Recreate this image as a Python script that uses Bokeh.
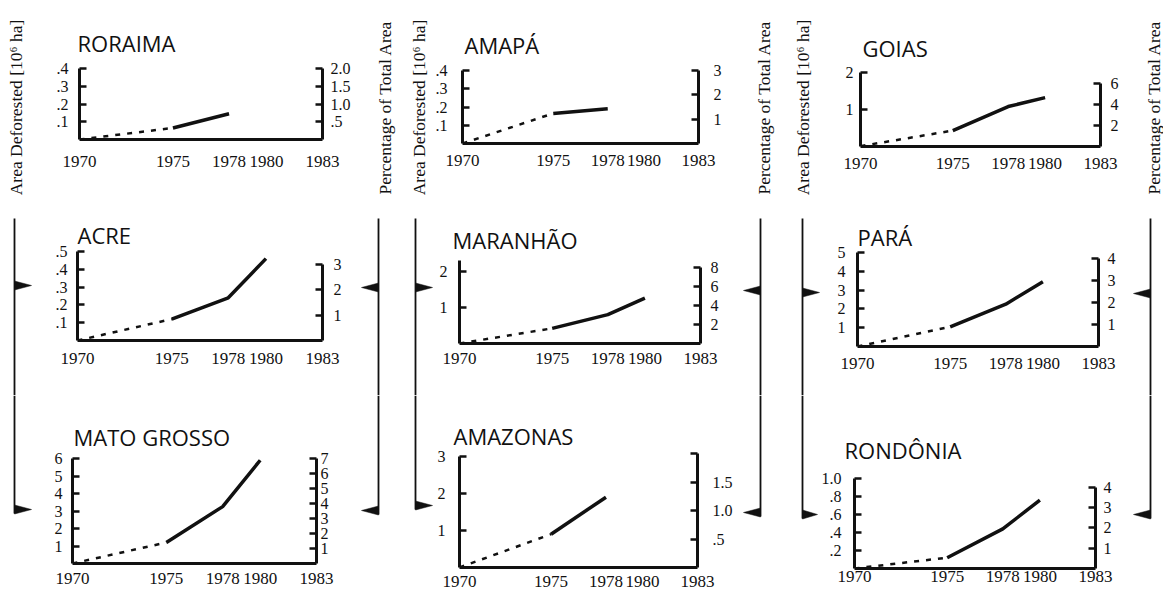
import math
from bokeh.plotting import figure
from bokeh.models import Range1d, LinearAxis, FixedTicker
from bokeh.layouts import row, column
from bokeh.embed import file_html
from bokeh.resources import INLINE
from bokeh.core.properties import value

# ---------------- data ----------------
years = [1970, 1975, 1978, 1980]
year_ticks = [1970, 1975, 1978, 1980, 1983]

state_names = ["RORAIMA", "AMAPÁ", "GOIAS",
               "ACRE", "MARANHÃO", "PARÁ",
               "MATO GROSSO", "AMAZONAS", "RONDÔNIA"]

# area deforested (in each panel's axis units) at 1970, 1975, 1978, 1980
roraima_area = [0.0, 0.065, 0.145]
amapa_area = [0.0, 0.165, 0.19]
goias_area = [0.01, 0.43, 1.08, 1.32]
acre_area = [0.0, 0.12, 0.24, 0.46]
maranhao_area = [0.0, 0.42, 0.80, 1.26]
para_area = [0.0, 1.05, 2.25, 3.45]
mato_grosso_area = [0.0, 1.2, 3.25, 5.9]
amazonas_area = [0.0, 0.9, 1.9]
rondonia_area = [0.0, 0.12, 0.44, 0.76]
series = [roraima_area, amapa_area, goias_area, acre_area, maranhao_area,
          para_area, mato_grosso_area, amazonas_area, rondonia_area]

# left axis (area deforested): top of scale, ticks and tick labels
area_top = [0.4, 0.4, 2.0, 0.5, 2.3, 5.0, 6.0, 3.08, 1.0]
area_ticks = [[0.1, 0.2, 0.3, 0.4], [0.1, 0.2, 0.3, 0.4], [1, 2],
              [0.1, 0.2, 0.3, 0.4, 0.5], [1, 2], [1, 2, 3, 4, 5],
              [1, 2, 3, 4, 5, 6], [1, 2, 3], [0.2, 0.4, 0.6, 0.8, 1.0]]
area_labels = [[".1", ".2", ".3", ".4"], [".1", ".2", ".3", ".4"], ["1", "2"],
               [".1", ".2", ".3", ".4", ".5"], ["1", "2"], ["1", "2", "3", "4", "5"],
               ["1", "2", "3", "4", "5", "6"], ["1", "2", "3"],
               [".2", ".4", ".6", ".8", "1.0"]]
area_axis_end = [None, None, None, None, None, None, None, 3, None]

# right axis (percentage of total area): ticks, labels, percent per area unit
pct_ticks = [[0.5, 1.0, 1.5, 2.0], [1, 2, 3], [2, 4, 6], [1, 2, 3], [2, 4, 6, 8],
             [1, 2, 3, 4], [1, 2, 3, 4, 5, 6, 7], [0.5, 1.0, 1.5, 2.0], [1, 2, 3, 4]]
pct_labels = [[".5", "1.0", "1.5", "2.0"], ["1", "2", "3"], ["2", "4", "6"],
              ["1", "2", "3"], ["2", "4", "6", "8"], ["1", "2", "3", "4"],
              ["1", "2", "3", "4", "5", "6", "7"], [".5", "1.0", "1.5", ""],
              ["1", "2", "3", "4"]]
pct_per_area = [5.0, 7.5, 3.5, 7.0, 3.8, 0.855, 7 / 6, 0.65, 4.44]

area_label = "Area Deforested [10\u2076 ha]"
pct_label = "Percentage of Total Area"

# ---------------- layout (page pixel coordinates) ----------------
BANDS = [(0, 215), (215, 395), (395, 600)]
SPLITS = [
    [0, 30, 370, 398, 432, 750, 780, 820, 1140, 1163],
    [0, 36, 360, 398, 436, 742, 778, 826, 1132, 1163],
    [0, 36, 360, 398, 434, 742, 778, 818, 1132, 1163],
]
# frame: left, right, top, bottom
FRAMES = [
    (79, 322, 68, 139), (460, 698, 70, 143), (860, 1100, 72, 146),
    (77, 322, 247, 340), (459, 700, 260, 343), (857, 1098, 252, 346),
    (72, 316, 458, 563), (458, 697, 453, 567), (852, 1095, 478, 568),
]
TITLE_STANDOFF = [21, 22, 20, 4, 12, 2, 13, 6, 28]
TITLE_OFFSET = [-2, 2, 2, 0, -7, 0, 1, -6, -10]
LEFT_STAND = [11, 15, 7, 10, 12, 12, 10, 14, 13]
RIGHT_STAND = [8, 15, 10, 11, 10, 9, 4, 15, 8]
X_STAND = [16, 11, 11, 12, 9, 11, 9, 8, 2]

LINE_X = [14, 378, 415, 760, 802, 1150]
TEXT_X = [15, 384, 418, 763, 802, 1153]
TEXT_Y = 107
DIRS = [1, -1, 1, -1, 1, -1]
LINE_TOP = 218
MID_ARROW_Y = [285, 287, 287, 290, 292, 293]
END_ARROW_Y = [512, 513, 508, 515, 517, 517]

INK = "#111111"
SERIF = "Liberation Serif"
TITLE_FONT = "Open Sans"


def style_axis(ax, stand, size="16px"):
    ax.axis_line_width = 3
    ax.axis_line_color = INK
    ax.major_tick_line_width = 2.5
    ax.major_tick_line_color = INK
    ax.major_tick_in = 7
    ax.major_tick_out = 0
    ax.minor_tick_in = 0
    ax.minor_tick_out = 0
    ax.major_label_standoff = stand
    ax.major_label_text_font = SERIF
    ax.major_label_text_font_size = size
    ax.major_label_text_color = INK


def make_panel(i, band, x0, x1):
    fl, fr, ft, fb = FRAMES[i]
    y0, y1 = BANDS[band]
    p = figure(width=x1 - x0, height=y1 - y0,
               x_range=Range1d(1970, 1983), y_range=Range1d(0, area_top[i]),
               output_backend="svg", toolbar_location=None,
               x_axis_type=None, y_axis_type=None, frame_align=False,
               min_border_left=fl - x0, min_border_right=x1 - fr,
               min_border_top=ft - y0, min_border_bottom=y1 - fb)
    p.title.text = state_names[i]
    p.title.text_font = TITLE_FONT
    p.title.text_font_size = "22px"
    p.title.text_font_style = "normal"
    p.title.text_color = INK
    p.title.align = "left"
    p.title.offset = TITLE_OFFSET[i]
    p.title.standoff = TITLE_STANDOFF[i]
    p.outline_line_color = None
    p.background_fill_color = "white"
    p.border_fill_color = "white"

    xa = LinearAxis(ticker=FixedTicker(ticks=year_ticks))
    style_axis(xa, X_STAND[i], "17px")
    xa.major_tick_in = 0
    p.add_layout(xa, "below")

    ya = LinearAxis(ticker=FixedTicker(ticks=area_ticks[i]),
                    major_label_overrides=dict(zip(area_ticks[i], area_labels[i])))
    if area_axis_end[i] is not None:
        ya.bounds = (0, area_axis_end[i])
    style_axis(ya, LEFT_STAND[i])
    p.add_layout(ya, "left")

    p.extra_y_ranges = {"pct": Range1d(0, area_top[i] * pct_per_area[i])}
    ra = LinearAxis(y_range_name="pct", ticker=FixedTicker(ticks=pct_ticks[i]),
                    major_label_overrides=dict(zip(pct_ticks[i], pct_labels[i])),
                    bounds=(0, max(pct_ticks[i])))
    style_axis(ra, RIGHT_STAND[i])
    p.add_layout(ra, "right")

    vals = series[i]
    xs = years[:len(vals)]
    p.line(xs[:2], vals[:2], line_dash="5 7", line_width=2.5, color=INK)
    p.line(xs[1:], vals[1:], line_width=3.5, color=INK)
    return p


def make_deco(k, band, x0, x1):
    y0, y1 = BANDS[band]
    w, h = x1 - x0, y1 - y0
    p = figure(width=w, height=h, x_range=Range1d(0, w), y_range=Range1d(h, 0),
               output_backend="svg", toolbar_location=None, title=None,
               x_axis_type=None, y_axis_type=None, min_border=0,
               frame_align=False)
    p.outline_line_color = None
    p.background_fill_color = "white"
    p.border_fill_color = "white"
    lx = LINE_X[k] - x0
    d = DIRS[k]
    if band == 0:
        p.text(x=[TEXT_X[k] - x0], y=[TEXT_Y - y0],
               text=[area_label if d == 1 else pct_label],
               angle=math.pi / 2, text_align="center", text_baseline="middle",
               text_font=value(SERIF), text_font_size="17.5px", text_color=INK)
    else:
        avail = (w - lx) if d == 1 else lx
        ln = min(17, avail - 1)
        if band == 1:
            p.line([lx, lx], [LINE_TOP - y0, h], line_width=1.8, color=INK)
            ay = MID_ARROW_Y[k] - y0
        else:
            ay = END_ARROW_Y[k] - y0 - 3
            p.line([lx, lx], [0, END_ARROW_Y[k] - y0 + 1], line_width=1.8, color=INK)
        p.patch([lx, lx, lx + d * ln], [ay - 4.5, ay + 4.5, ay],
                color=INK, line_width=0.5)
    return p


rows = []
for b in range(3):
    s = SPLITS[b]
    items = []
    for c in range(3):
        items.append(make_deco(2 * c, b, s[3 * c], s[3 * c + 1]))
        items.append(make_panel(3 * b + c, b, s[3 * c + 1], s[3 * c + 2]))
        items.append(make_deco(2 * c + 1, b, s[3 * c + 2], s[3 * c + 3]))
    rows.append(row(*items, spacing=0))

layout = column(*rows, spacing=0)
open("out.html", "w").write(file_html(layout, INLINE))
